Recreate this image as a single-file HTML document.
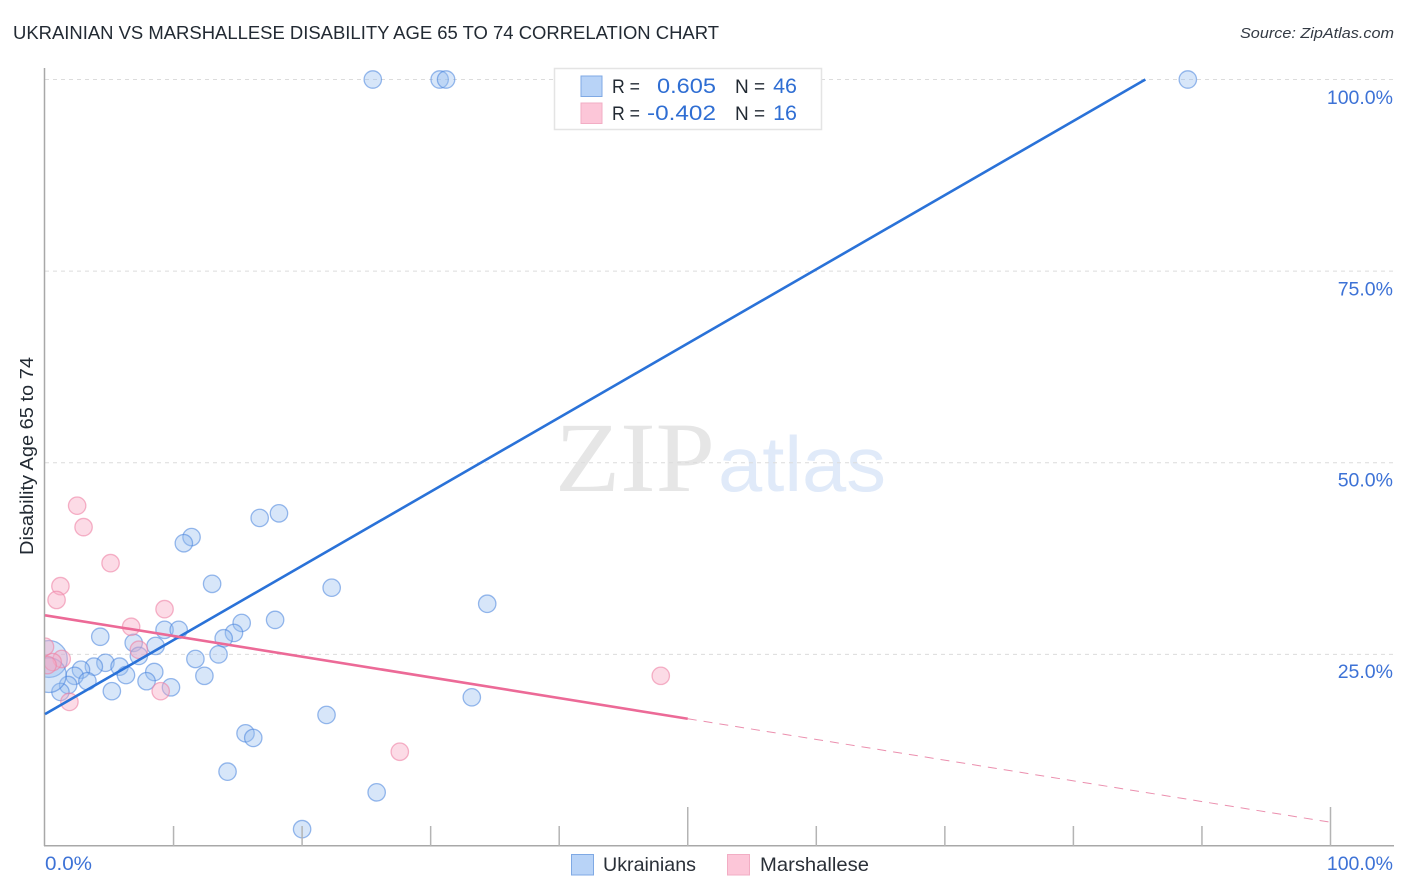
<!DOCTYPE html>
<html>
<head>
<meta charset="utf-8">
<title>Ukrainian vs Marshallese Disability Age 65 to 74 Correlation Chart</title>
<style>
html,body{margin:0;padding:0;background:#fff;}
svg{display:block;}
text{font-family:"Liberation Sans",sans-serif;}
</style>
</head>
<body>
<svg id="chart" xmlns="http://www.w3.org/2000/svg" width="1406" height="892" viewBox="0 0 1406 892">
  <text x="13" y="39" font-size="18.5" fill="#222a33" textLength="706" lengthAdjust="spacingAndGlyphs">UKRAINIAN VS MARSHALLESE DISABILITY AGE 65 TO 74 CORRELATION CHART</text>
  <text x="1394" y="38" font-size="15" font-style="italic" text-anchor="end" fill="#333a44" textLength="154" lengthAdjust="spacingAndGlyphs">Source: ZipAtlas.com</text>

  <g>
    <text x="555" y="491" font-size="100" style="font-family:'Liberation Serif',serif" fill="#e6e6e6" textLength="160" lengthAdjust="spacingAndGlyphs">ZIP</text>
    <text x="718" y="491" font-size="78" fill="#e0eaf9" textLength="168" lengthAdjust="spacingAndGlyphs">atlas</text>
  </g>

  <g id="grid"></g>
  <g id="points"></g>
  <rect x="0" y="60" width="44" height="786" fill="#fff"/>
  <g id="axes"></g>
  <g id="trends"></g>

  <text transform="translate(33,456) rotate(-90)" font-size="18.5" text-anchor="middle" fill="#222a33" textLength="198" lengthAdjust="spacingAndGlyphs">Disability Age 65 to 74</text>

  <g>
    <rect x="554.5" y="68.5" width="267" height="61" fill="#fff" stroke="#e4e4e4" stroke-width="1.5"/>
    <rect x="581" y="76" width="21" height="20.5" fill="#b8d3f7" stroke="#7fa9e4" stroke-width="1"/>
    <rect x="581" y="103" width="21" height="20.5" fill="#fcc6d8" stroke="#f2adc4" stroke-width="1"/>
    <text x="612" y="93" font-size="19" fill="#222a33" textLength="28" lengthAdjust="spacingAndGlyphs">R =</text>
    <text x="716" y="93" font-size="21.5" text-anchor="end" fill="#2f6ed3" textLength="59" lengthAdjust="spacingAndGlyphs">0.605</text>
    <text x="735" y="93" font-size="19" fill="#222a33">N =</text>
    <text x="797" y="93" font-size="21.5" text-anchor="end" fill="#2f6ed3">46</text>
    <text x="612" y="120" font-size="19" fill="#222a33" textLength="28" lengthAdjust="spacingAndGlyphs">R =</text>
    <text x="716" y="120" font-size="21.5" text-anchor="end" fill="#2f6ed3" textLength="69" lengthAdjust="spacingAndGlyphs">-0.402</text>
    <text x="735" y="120" font-size="19" fill="#222a33">N =</text>
    <text x="797" y="120" font-size="21.5" text-anchor="end" fill="#2f6ed3">16</text>
  </g>

  <g>
    <rect x="571.5" y="854.5" width="22" height="20.5" fill="#b8d3f7" stroke="#7fa9e4" stroke-width="1"/>
    <text x="603" y="871" font-size="19.5" fill="#2a3038" textLength="93" lengthAdjust="spacingAndGlyphs">Ukrainians</text>
    <rect x="727.5" y="854.5" width="22" height="20.5" fill="#fcc6d8" stroke="#f2adc4" stroke-width="1"/>
    <text x="760" y="871" font-size="19.5" fill="#2a3038" textLength="109" lengthAdjust="spacingAndGlyphs">Marshallese</text>
  </g>
</svg>
<script>
// ---- Chart data (percent values) ----
var yTickValues = [25, 50, 75, 100];
var yTickLabels = ["25.0%", "50.0%", "75.0%", "100.0%"];
var xTickValues = [10, 20, 30, 40, 50, 60, 70, 80, 90, 100];
var xMajorTicks = [50, 100];
var xEndLabels = ["0.0%", "100.0%"];

var ukrainianX = [25.5,30.7,31.2,88.9,16.7,18.2,11.4,10.8,13.0,22.3,17.9,15.3,14.7,13.9,9.3,10.4,4.3,6.9,8.6,7.3,13.5,11.7,4.7,3.8,2.8,2.3,5.8,6.3,8.5,12.4,3.3,1.8,1.2,5.2,7.9,9.8,21.9,15.6,16.2,0.3,0.3,33.2,14.2,25.8,20.0,34.4];
var ukrainianY = [100,100,100,100,42.8,43.4,40.3,39.5,34.2,33.7,29.5,29.1,27.8,27.1,28.2,28.2,27.3,26.5,26.1,24.8,25.0,24.4,23.9,23.4,23.0,22.2,23.4,22.3,22.7,22.2,21.5,21.0,20.1,20.2,21.5,20.7,17.1,14.7,14.1,24.4,22.3,19.4,9.7,7.0,2.2,31.6];
var ukrainianWeight = [1,1,1,1,1,1,1,1,1,1,1,1,1,1,1,1,1,1,1,1,1,1,1,1,1,1,1,1,1,1,1,1,1,1,1,1,1,1,1,4.5,4,1,1,1,1,1];

var marshalleseX = [2.5,3.0,5.1,1.2,0.9,9.3,6.7,7.3,1.9,9.0,1.3,0.6,0.0,0.2,47.9,27.6];
var marshalleseY = [44.4,41.6,36.9,33.9,32.1,30.9,28.6,25.6,18.8,20.2,24.4,24.0,26.0,23.6,22.2,12.3];
var marshalleseWeight = [1,1,1,1,1,1,1,1,1,1,1,1,1,1,1,1];

var ukrainianTrendX = [0, 85.6];
var ukrainianTrendY = [17.2, 100];
var marshalleseTrendX = [0, 50];
var marshalleseTrendY = [30.1, 16.6];
var marshalleseForecastX = [50, 100];
var marshalleseForecastY = [16.6, 3.1];

// ---- Axis functions ----
function xScale(v){ return 45 + v * 12.855; }
function yScale(v){ return 846 - v * 7.665; }
function yLabelPos(v){ return 104 + (100 - v) * 7.65; }
function radius(w){ return 8.7 * Math.sqrt(w); }

var NS = "http://www.w3.org/2000/svg";
function make(tag, parent, attrs, text){
  var el = document.createElementNS(NS, tag);
  for (var k in attrs) el.setAttribute(k, attrs[k]);
  if (text !== undefined) el.textContent = text;
  parent.appendChild(el);
  return el;
}

var grid = document.getElementById("grid");
var axes = document.getElementById("axes");
var points = document.getElementById("points");
var trends = document.getElementById("trends");

// Gridlines + y tick labels
yTickValues.forEach(function(v, i){
  var line = make("line", grid, {x1:45, x2:1394, y1:yScale(v), y2:yScale(v), stroke:"#dcdcdc", "stroke-width":1, "stroke-dasharray":"4 4"});
  
  
  var label = make("text", axes, {x:1393, y:yLabelPos(v), "font-size":19.5, "text-anchor":"end", fill:"#3d72d6"}, yTickLabels[i]);
  
  
});

// Axis lines
var yAxis = make("line", axes, {x1:44.5, x2:44.5, y1:68, y2:846, stroke:"#a8a8a8", "stroke-width":1.5});


var xAxis = make("line", axes, {x1:44, x2:1394, y1:845.7, y2:845.7, stroke:"#a8a8a8", "stroke-width":1.5});



// X ticks
xTickValues.forEach(function(v){
  var top = xMajorTicks.indexOf(v) >= 0 ? 807 : 826;
  var tick = make("line", axes, {x1:xScale(v), x2:xScale(v), y1:top, y2:846, stroke:"#b4b4b4", "stroke-width":1.5});
  
  
});

// X end labels
var xLabelLeft = make("text", axes, {x:45, y:870, "font-size":19.5, fill:"#3d72d6", textLength:47, lengthAdjust:"spacingAndGlyphs"}, xEndLabels[0]);


var xLabelRight = make("text", axes, {x:1393, y:870, "font-size":19.5, "text-anchor":"end", fill:"#3d72d6"}, xEndLabels[1]);



// Points
ukrainianX.forEach(function(v, i){
  var c = make("circle", points, {cx:xScale(v), cy:yScale(ukrainianY[i]), r:radius(ukrainianWeight[i]), fill:"rgba(150,190,240,0.38)", stroke:"rgba(70,130,220,0.55)", "stroke-width":1.3});
  
  
});
marshalleseX.forEach(function(v, i){
  var c = make("circle", points, {cx:xScale(v), cy:yScale(marshalleseY[i]), r:radius(marshalleseWeight[i]), fill:"rgba(248,170,195,0.42)", stroke:"rgba(238,130,165,0.6)", "stroke-width":1.3});
  
  
});

// Trend lines
var blueTrend = make("line", trends, {x1:xScale(ukrainianTrendX[0]), y1:yScale(ukrainianTrendY[0]), x2:xScale(ukrainianTrendX[1]), y2:yScale(ukrainianTrendY[1]), stroke:"#2a72d8", "stroke-width":2.6});


var pinkTrend = make("line", trends, {x1:xScale(marshalleseTrendX[0]), y1:yScale(marshalleseTrendY[0]), x2:xScale(marshalleseTrendX[1]), y2:yScale(marshalleseTrendY[1]), stroke:"#ec6a97", "stroke-width":2.6});


var pinkForecast = make("line", trends, {x1:xScale(marshalleseForecastX[0]), y1:yScale(marshalleseForecastY[0]), x2:xScale(marshalleseForecastX[1]), y2:yScale(marshalleseForecastY[1]), stroke:"#eb8fae", "stroke-width":1, "stroke-dasharray":"9 7"});


</script>
</body>
</html>
